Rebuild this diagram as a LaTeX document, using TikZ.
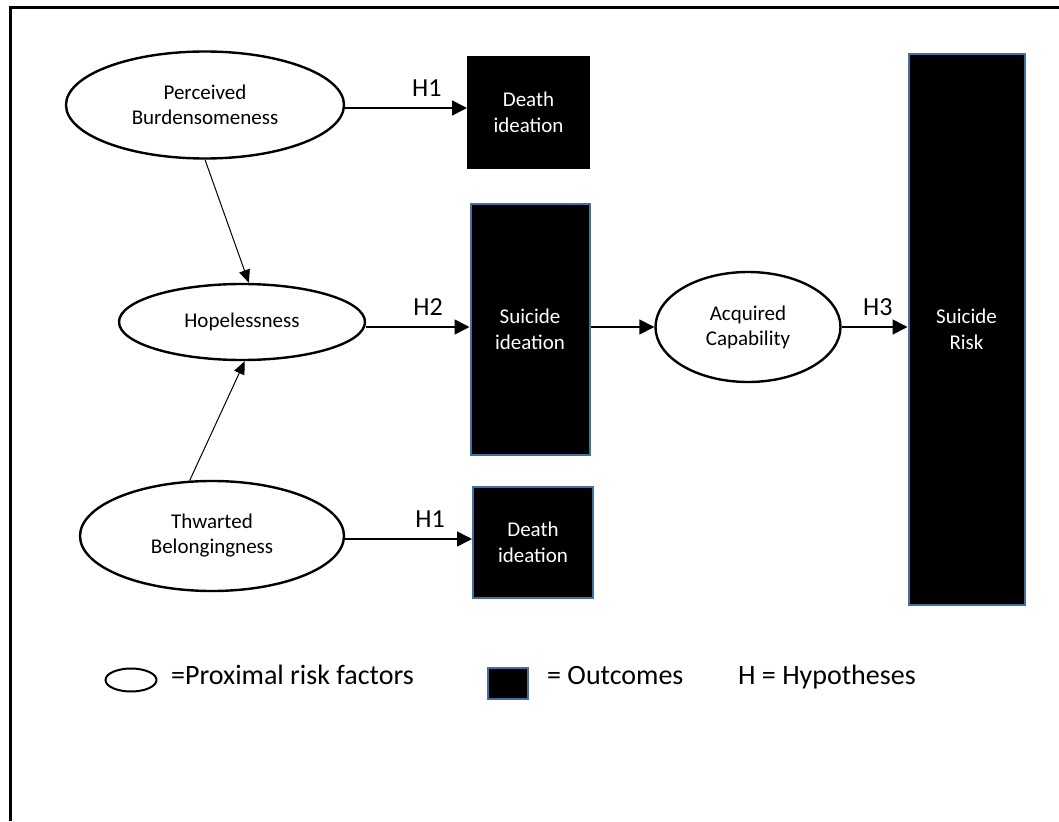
\documentclass[tikz,border=0pt]{standalone}
\usepackage{fontspec}
\setmainfont{Carlito}
\usepackage{tikz}
\usetikzlibrary{shapes.geometric, arrows.meta}
\definecolor{outline}{RGB}{65,113,156}

\begin{document}
\begin{tikzpicture}[
        x=1pt, y=-1pt,
        factor/.style={
            ellipse,
            draw,
            line width=2.4pt,
            inner sep=0pt,
            align=center,
            font=\fontsize{21}{25}\selectfont
        },
        outcome/.style={
            rectangle,
            draw=outline,
            line width=2pt,
            fill=black,
            text=white,
            inner sep=0pt,
            align=center,
            font=\fontsize{21}{26}\selectfont
        },
        line/.style={
            draw,
            line width=1.6pt,
            -{Triangle[length=15pt, width=15pt]}
        },
        slanted/.style={
            line width=1pt,
            -{Triangle[length=13pt, width=11pt]}
        },
        hyp/.style={
            above=11pt,
            inner sep=0pt,
            font=\fontsize{26}{30}\selectfont
        },
        legend/.style={
            anchor=base west,
            inner sep=0pt,
            font=\fontsize{28}{32}\selectfont
        }
    ]
    \useasboundingbox (0,0) rectangle (1059,821);
    \draw[line width=3pt] (10,821) -- (10,7.5) -- (1059,7.5);

    % Nodes
    \node[factor, minimum width=278pt, minimum height=107pt] (pb) at (205,105) {Perceived\\Burdensomeness};
    \node[factor, minimum width=246pt, minimum height=76pt] (hope) at (242,322) {Hopelessness};
    \node[factor, minimum width=264pt, minimum height=110pt] (tb) at (212,536) {Thwarted\\Belongingness};
    \node[factor, minimum width=185pt, minimum height=110pt] (ac) at (748,327) {Acquired\\Capability};
    \node[outcome, draw=black, minimum width=121pt, minimum height=111pt] (di1) at (528.5,112.5) {Death\\ideation};
    \node[outcome, minimum width=119pt, minimum height=251pt] (si) at (530,329.5) {Suicide\\ideation};
    \node[outcome, minimum width=120pt, minimum height=111pt] (di2) at (533,542.5) {Death\\ideation};
    \node[outcome, minimum width=116pt, minimum height=551pt] (sr) at (966.5,329.5) {Suicide\\Risk};

    % Arrows
    \path[line] (pb.east |- 0,108) -- (di1.west |- 0,108) node[hyp, pos=0.67] {H1};
    \path[line] (hope.east |- 0,327) -- (si.west |- 0,327) node[hyp, pos=0.6] {H2};
    \path[line] (tb.east |- 0,539) -- (di2.west |- 0,539) node[hyp, pos=0.67] {H1};
    \path[line] (si.east |- 0,327) -- (ac.west |- 0,327);
    \path[line] (ac.east |- 0,327) -- (sr.west |- 0,327) node[hyp, pos=0.55] {H3};
    \path[line, slanted] (pb.south) -- (hope.80);
    \path[line, slanted] (tb.112) -- (hope.-86);

    % Legend
    \node[factor, line width=2pt, minimum width=51pt, minimum height=23pt] (keyfactor) at (131,680) {};
    \node[legend] (keyfactortext) at (171,684) {=Proximal risk factors};
    \node[outcome, minimum width=40pt, minimum height=31pt] (keyoutcome) at (508,683.5) {};
    \node[legend] (keyoutcometext) at (547,684) {= Outcomes};
    \node[legend] (keyhyp) at (738,684) {H = Hypotheses};
\end{tikzpicture}
\end{document}
